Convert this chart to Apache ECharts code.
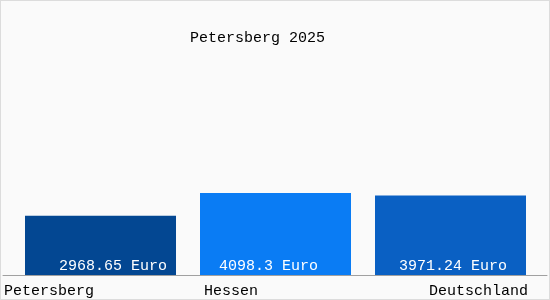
<!DOCTYPE html>
<html>
<head>
<meta charset="utf-8">
<script src="https://cdn.jsdelivr.net/npm/echarts@6/dist/echarts.min.js"></script>
<style>
html,body{margin:0;padding:0;background:#fff;}
#c{width:548px;height:298px;border:1px solid #dcdcdc;background:#fafafa;}
</style>
</head>
<body>
<div id="c"></div>
<script>
var titleText = 'Petersberg 2025';
var categories = ['Petersberg', 'Hessen', 'Deutschland'];
var values = [2968.65, 4098.3, 3971.24];
var unit = 'Euro';
var barColors = ['#034792', '#0a7cf4', '#0a60c3'];

var labelOffsets = [[12.5, 0], [-7, 0], [2.5, 0]];
var richKeys = ['a', 'b', 'c'];

var chart = echarts.init(document.getElementById('c'), null, {renderer: 'canvas'});
var font = '"Liberation Mono", "DejaVu Sans Mono", monospace';
chart.setOption({
  animation: false,
  backgroundColor: '#fafafa',
  title: {
    text: titleText,
    left: 184, top: 25,
    textStyle: {fontFamily: font, fontSize: 15, fontWeight: 'normal', color: '#000'}
  },
  grid: [
    {left: 12, width: 525, top: 24, height: 250},
    {left: 2, right: 2, top: 24, height: 250}
  ],
  xAxis: [{
    type: 'category', gridIndex: 0, data: categories,
    axisLine: {show: false}, axisTick: {show: false},
    axisLabel: {
      margin: 9,
      formatter: function (v, i) { return '{' + richKeys[i] + '|' + v + '}'; },
      rich: {
        a: {fontFamily: font, fontSize: 15, color: '#000', padding: [0, 103, 0, 0]},
        b: {fontFamily: font, fontSize: 15, color: '#000', padding: [0, 89, 0, 0]},
        c: {fontFamily: font, fontSize: 15, color: '#000', padding: [0, 0, 0, 56]}
      }
    }
  }, {
    type: 'category', gridIndex: 1, data: [''],
    axisLine: {show: true, lineStyle: {color: '#a0a0a0', width: 1}},
    axisTick: {show: false}, axisLabel: {show: false}
  }],
  yAxis: [
    {type: 'value', gridIndex: 0, min: 0, max: 12500, show: false},
    {type: 'value', gridIndex: 1, min: 0, max: 1, show: false}
  ],
  series: [{
    type: 'bar', xAxisIndex: 0, yAxisIndex: 0,
    barWidth: 151,
    data: values.map(function (v, i) {
      return {
        value: v,
        itemStyle: {color: barColors[i]},
        label: {offset: labelOffsets[i]}
      };
    }),
    label: {
      show: true, position: 'insideBottom', distance: 1,
      color: '#fff', fontFamily: font, fontSize: 15,
      formatter: function (p) { return p.value + ' ' + unit; }
    }
  }]
});
</script>
</body>
</html>
